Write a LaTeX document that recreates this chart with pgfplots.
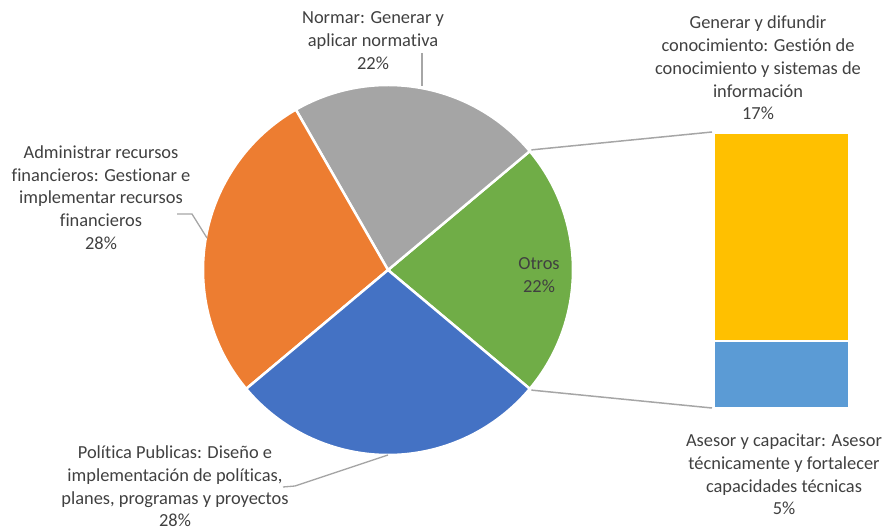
\documentclass[border=0pt]{standalone}
\usepackage{pgfplots}
\pgfplotsset{compat=1.18}
\usepackage{fontspec}
\setmainfont{Carlito}[Ligatures=NoCommon]
\definecolor{cgray}{HTML}{A5A5A5}
\definecolor{corange}{HTML}{ED7D31}
\definecolor{cblue}{HTML}{4472C4}
\definecolor{cgreen}{HTML}{70AD47}
\definecolor{cyellow}{HTML}{FFC000}
\definecolor{clblue}{HTML}{5B9BD5}
\definecolor{ctext}{HTML}{404040}
\definecolor{cline}{HTML}{A6A6A6}
% pie values (percent)
\def\vOtros{22.2}
\def\vNormar{22.2}
\def\vAdmin{27.8}
\def\vPolitica{27.8}
\begin{document}
\begin{tikzpicture}[every node/.style={font=\fontsize{18.4bp}{22.7bp}\selectfont, text=ctext, align=center}]
\useasboundingbox (0,0) rectangle (885bp,527bp);
\begin{axis}[at={(0,0)}, anchor=south west, width=885bp, height=527bp, scale only axis,
  xmin=0, xmax=885, ymin=0, ymax=527, hide axis, clip=false]
\pgfmathsetmacro{\aA}{-\vOtros*1.8}
\pgfmathsetmacro{\aB}{\aA+\vOtros*3.6}
\pgfmathsetmacro{\aC}{\aB+\vNormar*3.6}
\pgfmathsetmacro{\aD}{\aC+\vAdmin*3.6}
\pgfmathsetmacro{\aE}{\aD+\vPolitica*3.6}
\tikzset{slice/.style={draw=white, line width=2.5bp, line join=round}}
\filldraw[slice, fill=cgreen] (axis cs:388,257) -- ++(\aA:185bp) arc[start angle=\aA, end angle=\aB, radius=185bp] -- cycle;
\filldraw[slice, fill=cgray] (axis cs:388,257) -- ++(\aB:185bp) arc[start angle=\aB, end angle=\aC, radius=185bp] -- cycle;
\filldraw[slice, fill=corange] (axis cs:388,257) -- ++(\aC:185bp) arc[start angle=\aC, end angle=\aD, radius=185bp] -- cycle;
\filldraw[slice, fill=cblue] (axis cs:388,257) -- ++(\aD:185bp) arc[start angle=\aD, end angle=\aE, radius=185bp] -- cycle;
% connector lines
\draw[cline, line width=1.5bp] (axis cs:388,257) ++(\aB:187bp) -- (axis cs:712,395);
\draw[cline, line width=1.5bp] (axis cs:388,257) ++(\aA:187bp) -- (axis cs:712,119);
% leader lines
\draw[cline, line width=1.3bp] (axis cs:422,474) -- (axis cs:422,441);
\draw[cline, line width=1.3bp] (axis cs:177,313) -- (axis cs:192,313) -- (axis cs:207,289);
\draw[cline, line width=1.3bp] (axis cs:283,40) -- (axis cs:295,41) -- (axis cs:388,72);
% labels
\node at (axis cs:373,486.5) {Normar: Generar y\\aplicar normativa\\22\%};
\node at (axis cs:758,459) {Generar y difundir\\conocimiento: Gestión de\\conocimiento y sistemas de\\información\\17\%};
\node at (axis cs:101,329.5) {Administrar recursos\\financieros: Gestionar e\\implementar recursos\\financieros\\28\%};
\node at (axis cs:539,252) {Otros\\22\%};
\node at (axis cs:175,40.5) {Política Publicas: Diseño e\\implementación de políticas,\\planes, programas y proyectos\\28\%};
\node at (axis cs:784,52.5) {Asesor y capacitar: Asesor\\técnicamente y fortalecer\\capacidades técnicas\\5\%};
\end{axis}
\begin{axis}[at={(714bp,119bp)}, anchor=south west, width=135bp, height=275bp, scale only axis,
  xmin=0, xmax=1, ymin=0, ymax=22.2, hide axis, clip=false, ybar stacked, bar width=135bp]
\addplot[fill=clblue, draw=white, line width=2.5bp] coordinates {(0.5,5.4)};
\addplot[fill=cyellow, draw=white, line width=2.5bp] coordinates {(0.5,16.8)};
\end{axis}
\end{tikzpicture}
\end{document}
